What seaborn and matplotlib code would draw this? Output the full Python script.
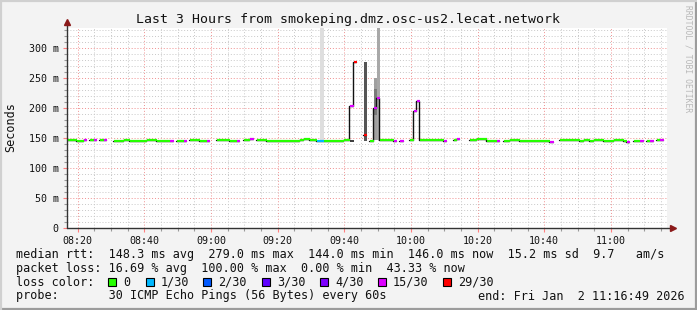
import numpy as np
import pandas as pd
import matplotlib
matplotlib.use("Agg")
import matplotlib.pyplot as plt
from matplotlib.patches import Rectangle
from matplotlib.lines import Line2D
from matplotlib.ticker import MultipleLocator, FuncFormatter
import seaborn as sns

# ---------------- data ----------------
title = "Last 3 Hours from smokeping.dmz.osc-us2.lecat.network"
start_clock_min = 16 + 49 / 60.0          # 08:16:49 (minutes after 08:00)
span_min = 180

loss_labels = ["0", "1/30", "2/30", "3/30", "4/30", "15/30", "29/30"]
loss_colors = ["#26ff00", "#00b8ff", "#0059ff", "#5e00ff", "#7e00ff", "#dd00ff", "#ff0000"]

# median rtt segments (minute offsets from start), value in ms, loss class index
seg_start = [0, 3, 5, 7, 8, 10, 11, 14, 17, 19, 24, 27, 31, 33, 35, 37, 40, 42, 45, 49,
             51, 53, 55, 57, 60, 70, 71, 73, 75, 77, 83, 85, 86, 89, 91, 92, 93, 94, 98, 100,
             103, 104, 105, 106, 113, 116, 117, 121, 123, 126, 129, 131, 133, 136, 145, 148, 154, 155, 157, 158,
             161, 164, 167, 168, 170, 172, 174, 175, 177, 178]
seg_end = [3, 5, 6, 8, 9, 11, 12, 17, 19, 24, 27, 31, 32, 35, 36, 40, 42, 43, 49, 51,
           52, 55, 56, 60, 70, 71, 73, 75, 77, 83, 85, 86, 87, 90, 92, 93, 94, 98, 99, 101,
           104, 105, 106, 113, 114, 117, 118, 123, 126, 129, 130, 133, 136, 145, 146, 154, 155, 157, 158, 161,
           164, 167, 168, 169, 172, 173, 175, 176, 178, 179]
seg_ms = [146.0, 144.5, 146.0, 146.0, 146.0, 146.0, 146.0, 144.5, 146.0, 144.5,
          146.0, 144.5, 144.5, 144.5, 144.5, 146.0, 144.5, 144.5, 146.0, 144.5,
          144.5, 146.0, 148.0, 146.0, 144.5, 146.0, 148.0, 146.0, 144.5, 144.5,
          146.0, 203.0, 277.0, 155.0, 145.0, 200.0, 216.0, 146.0, 144.5, 144.5,
          146.0, 195.0, 212.0, 146.0, 144.5, 146.0, 148.0, 146.0, 148.0, 144.5,
          144.5, 144.5, 146.0, 144.5, 144.0, 146.0, 144.5, 146.0, 144.5, 146.0,
          144.5, 146.0, 144.5, 144.0, 144.5, 144.5, 144.5, 144.5, 146.0, 146.0]
seg_loss = [0, 0, 5, 0, 5, 0, 5, 0, 0, 0,
            0, 0, 5, 0, 5, 0, 0, 5, 0, 0,
            5, 0, 5, 0, 0, 0, 0, 0, 1, 0,
            0, 5, 6, 6, 0, 5, 5, 0, 5, 5,
            0, 5, 5, 0, 5, 0, 5, 0, 0, 0,
            5, 0, 0, 0, 5, 0, 0, 0, 0, 0,
            0, 0, 0, 5, 0, 5, 0, 5, 0, 5]

# smoke (ping spread) bars: minute offset, low/high ms, grey tone
smoke_start = [76, 85, 89, 92, 93, 92]
smoke_low = [146, 143.5, 145, 146, 146, 188]
smoke_high = [333, 146.5, 277, 250, 333, 232]
smoke_grey = ["#dedede", "#404040", "#555555", "#a0a0a0", "#a8a8a8", "#7a7a7a"]

stats_line1 = "median rtt:  148.3 ms avg  279.0 ms max  144.0 ms min  146.0 ms now  15.2 ms sd  9.7   am/s"
stats_line2 = "packet loss: 16.69 % avg  100.00 % max  0.00 % min  43.33 % now"
probe_line = "probe:       30 ICMP Echo Pings (56 Bytes) every 60s"
end_line = "end: Fri Jan  2 11:16:49 2026"

# ---------------- figure ----------------
W, H = 697, 310
sns.set_theme(style="white")
plt.rcParams["font.family"] = ["DejaVu Sans Mono", "DejaVu Sans"]
fig = plt.figure(figsize=(W / 100, H / 100), dpi=100, facecolor="#f3f3f3")

L, R, T, B = 67, 667, 28, 228
ax = fig.add_axes([L / W, 1 - B / H, (R - L) / W, (B - T) / H])
ax.set_facecolor("white")
ymax = 333.3
x0 = start_clock_min
ax.set_xlim(x0, x0 + span_min)
ax.set_ylim(0, ymax)

# grid
ax.xaxis.set_major_locator(MultipleLocator(20))
ax.xaxis.set_minor_locator(MultipleLocator(5))
ax.yaxis.set_major_locator(MultipleLocator(50))
ax.yaxis.set_minor_locator(MultipleLocator(10))
ax.grid(which="minor", color="#c8c8c8", linestyle=(0, (1, 2)), linewidth=0.7)
ax.grid(which="major", color="#f09090", linestyle=(0, (1, 2)), linewidth=0.7)
ax.set_axisbelow(True)

# smoke
for s, lo, hi, g in zip(smoke_start, smoke_low, smoke_high, smoke_grey):
    ax.bar(x0 + s, hi - lo, bottom=lo, width=1, align="edge", color=g, linewidth=0, zorder=2)

# black median (step) underlay, shifted slightly left like rrdtool
shift = -0.3
rows = []
run = 0
for i, (a, b, v) in enumerate(zip(seg_start, seg_end, seg_ms)):
    if i > 0 and seg_start[i] != seg_end[i - 1]:
        run += 1
    rows.append((x0 + a + shift, v, run))
    last_next = (i + 1 == len(seg_start)) or (seg_start[i + 1] != b)
    if last_next:
        rows.append((x0 + b + shift, v, run))
blk = pd.DataFrame(rows, columns=["t", "ms", "run"])
sns.lineplot(data=blk, x="t", y="ms", units="run", estimator=None, color="#111111",
             linewidth=1.0, drawstyle="steps-post", ax=ax, zorder=3, legend=False)

# coloured median segments
crow = []
for i, (a, b, v, lc) in enumerate(zip(seg_start, seg_end, seg_ms, seg_loss)):
    crow.append((x0 + a, v, i, loss_labels[lc]))
    crow.append((x0 + b, v, i, loss_labels[lc]))
cdf = pd.DataFrame(crow, columns=["t", "ms", "seg", "loss"])
pal = dict(zip(loss_labels, loss_colors))
sns.lineplot(data=cdf, x="t", y="ms", units="seg", hue="loss", palette=pal, estimator=None,
             linewidth=1.6, ax=ax, zorder=4, legend=False, solid_capstyle="butt")

# axes styling
for sp in ax.spines.values():
    sp.set_visible(False)
ax.set_xlabel("")
ax.set_ylabel("")
ax.xaxis.set_major_formatter(FuncFormatter(lambda v, p: f"{8 + int(round(v)) // 60:02d}:{int(round(v)) % 60:02d}"))
ax.yaxis.set_major_formatter(FuncFormatter(lambda v, p: "0" if abs(v) < 1e-6 else f"{int(round(v))} m"))
ax.tick_params(axis="both", which="major", length=3, width=0.8, color="#ff8080",
               labelsize=7.2, labelcolor="#111111", direction="out", pad=3)
ax.tick_params(axis="both", which="minor", length=2, width=0.8, color="#999999", direction="out")
ax.tick_params(axis="y", which="both", left=True)
ax.tick_params(axis="x", which="both", bottom=True)

# axis lines with arrows
ax.plot([0, 0], [0, 1.03], transform=ax.transAxes, clip_on=False, color="#333333", lw=1, zorder=6)
ax.plot([0, 1.01], [0, 0], transform=ax.transAxes, clip_on=False, color="#333333", lw=1, zorder=6)
ax.plot([0], [1.03], marker="^", ms=4.5, color="#8b1a1a", transform=ax.transAxes, clip_on=False, zorder=7)
ax.plot([1.01], [0], marker=">", ms=4.5, color="#8b1a1a", transform=ax.transAxes, clip_on=False, zorder=7)

# titles and labels
fig.text(348 / W, 1 - 19 / H, title, ha="center", va="center", fontsize=9.5, color="#111111")
fig.text(11 / W, 1 - 127 / H, "Seconds", rotation=90, ha="center", va="center", fontsize=8.5, color="#111111")
fig.text(688 / W, 1 - 5 / H, "RRDTOOL / TOBI OETIKER", rotation=-90, ha="center", va="top",
         fontsize=5.8, color="#b8b8b8")

# legend / stats
fs = 8.5
fig.text(16 / W, 1 - 254.5 / H, stats_line1, ha="left", va="center", fontsize=fs, color="#111111")
fig.text(16 / W, 1 - 268.3 / H, stats_line2, ha="left", va="center", fontsize=fs, color="#111111")
fig.text(16 / W, 1 - 282.2 / H, "loss color:", ha="left", va="center", fontsize=fs, color="#111111")
box_x = [108.3, 146.0, 203.3, 261.7, 320.0, 377.7, 442.7]
for bx, lab, col in zip(box_x, loss_labels, loss_colors):
    fig.add_artist(Rectangle((bx / W, 1 - 286.2 / H), 8 / W, 8 / H, transform=fig.transFigure,
                             facecolor=col, edgecolor="black", linewidth=0.8))
    fig.text((bx + 15) / W, 1 - 282.2 / H, lab, ha="left", va="center", fontsize=fs, color="#111111")
fig.text(16 / W, 1 - 296 / H, probe_line, ha="left", va="center", fontsize=fs, color="#111111")
fig.text(478.3 / W, 1 - 296 / H, end_line, ha="left", va="center", fontsize=fs, color="#111111")

# 3D-ish frame
fig.add_artist(Line2D([0, 1], [1 / H * 1, 1 / H * 1], transform=fig.transFigure, color="#9c9c9c", lw=1.6))
fig.add_artist(Line2D([1 - 1 / W, 1 - 1 / W], [0, 1], transform=fig.transFigure, color="#9c9c9c", lw=1.6))
fig.add_artist(Line2D([0, 1], [1 - 1 / H, 1 - 1 / H], transform=fig.transFigure, color="#d0d0d0", lw=1.6))
fig.add_artist(Line2D([1 / W, 1 / W], [0, 1], transform=fig.transFigure, color="#d0d0d0", lw=1.6))

fig.savefig("out.png", dpi=100, facecolor=fig.get_facecolor())
